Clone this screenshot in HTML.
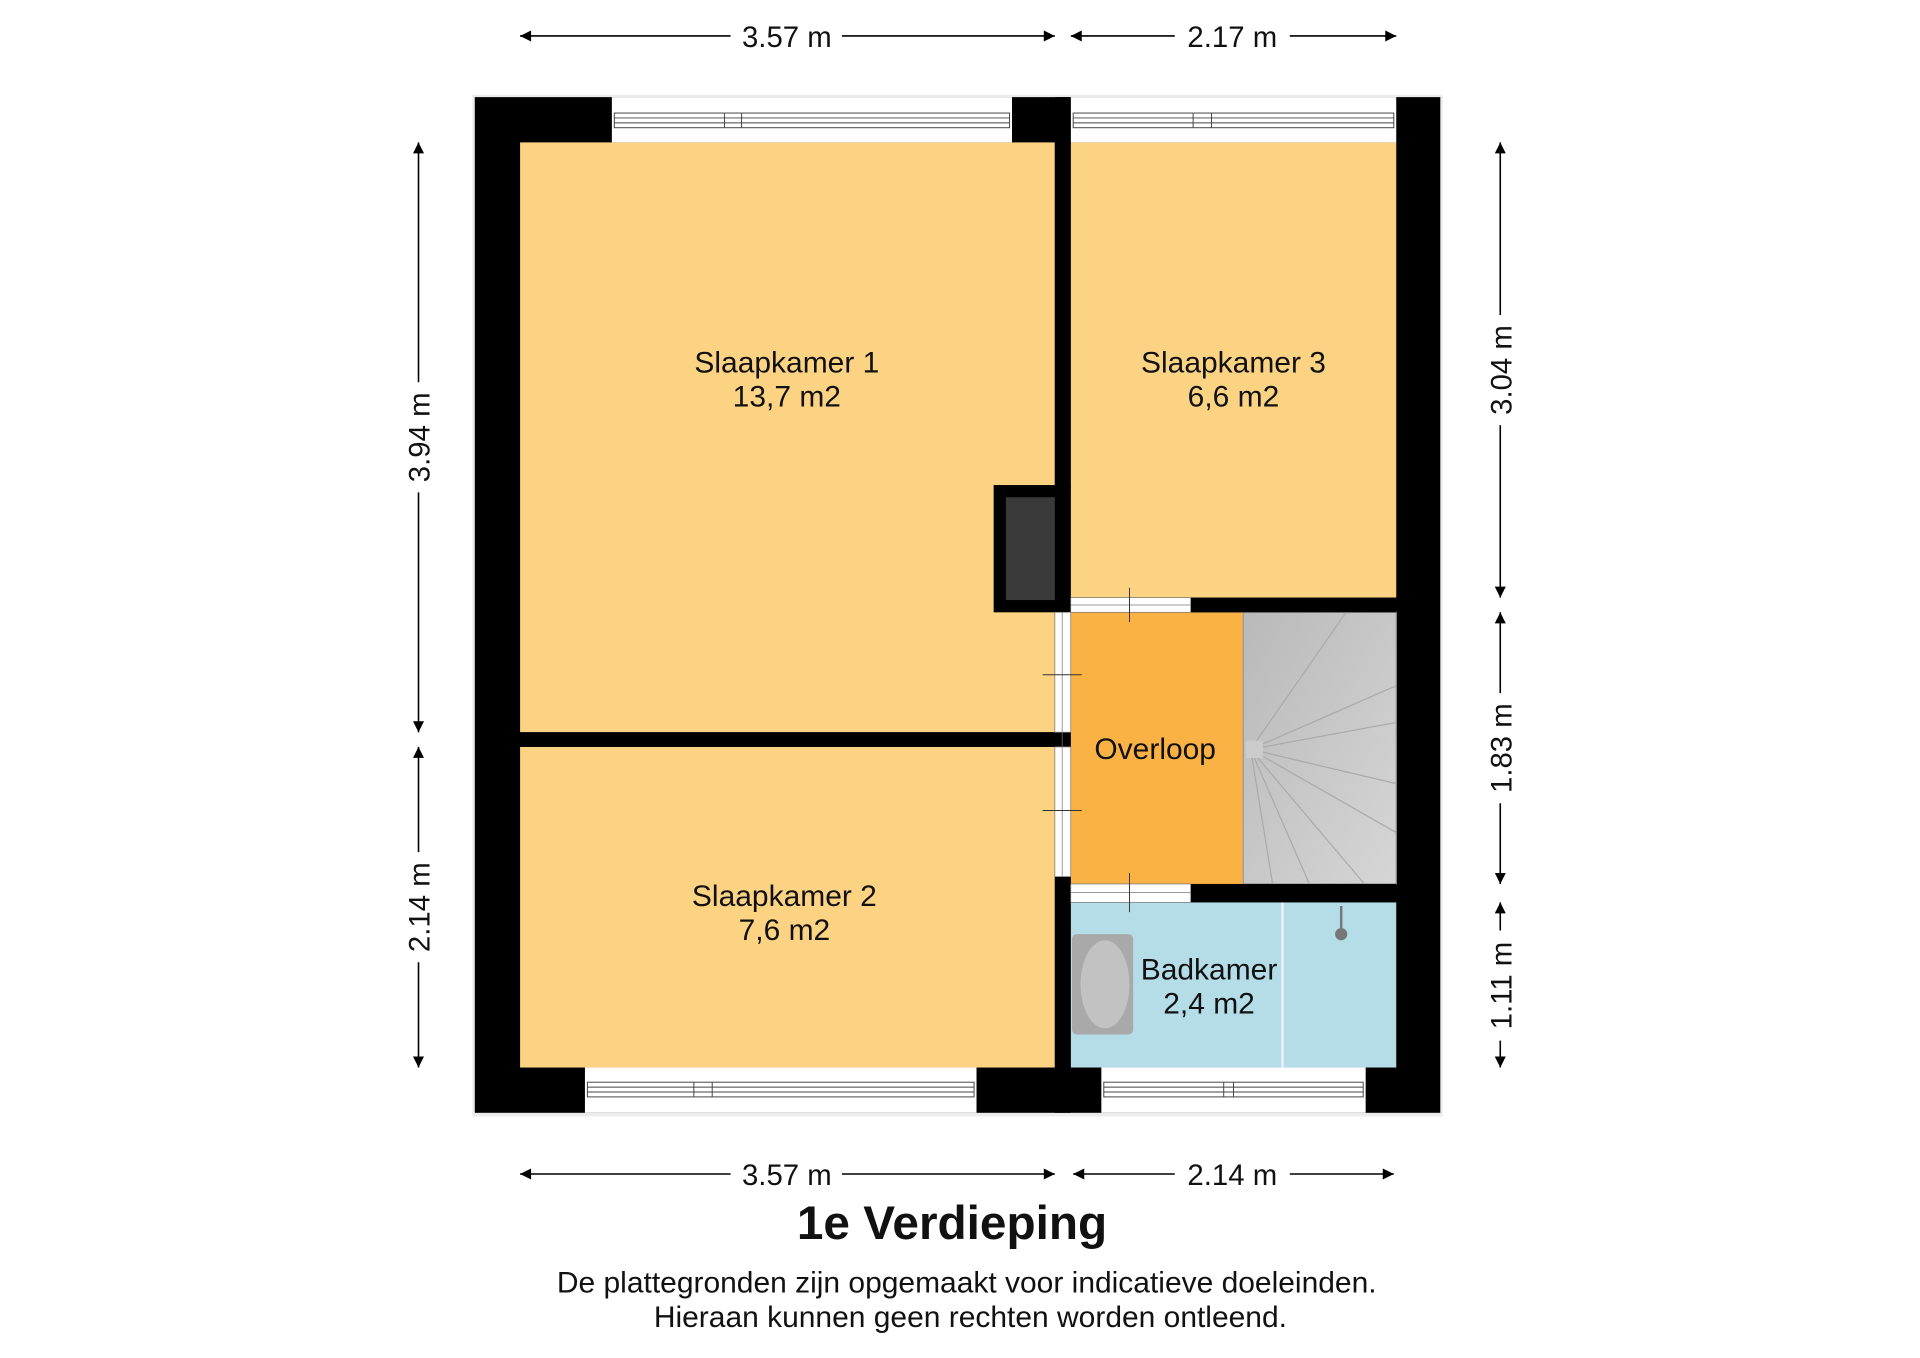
<!DOCTYPE html>
<html><head><meta charset="utf-8"><style>
html,body{margin:0;padding:0;background:#fff;}
svg{display:block;}
text{font-family:"Liberation Sans",Arial,sans-serif;fill:#111;}
</style></head><body>
<svg width="1920" height="1358" viewBox="0 0 1569 1109" xmlns="http://www.w3.org/2000/svg">
<defs>
<marker id="ar" viewBox="0 0 10 10" refX="10" refY="5" markerWidth="12" markerHeight="9" markerUnits="userSpaceOnUse" orient="auto-start-reverse">
<path d="M0,0 L10,5 L0,10 z" fill="#000"/></marker>
<linearGradient id="st" x1="0" y1="0" x2="1" y2="1"><stop offset="0" stop-color="#b9b9b9"/><stop offset="1" stop-color="#d6d6d6"/></linearGradient>
</defs>
<rect x="386" y="77" width="793" height="835" fill="#ececec"/>
<rect x="388" y="79" width="789" height="830" fill="#000"/>
<rect x="425" y="116" width="437" height="482" fill="#fcd283"/>
<rect x="875" y="116" width="266" height="372" fill="#fcd283"/>
<rect x="425" y="610" width="437" height="262" fill="#fcd283"/>
<rect x="875" y="500" width="141" height="222" fill="#fbb244"/>
<rect x="1016" y="500" width="125" height="222" fill="url(#st)" stroke="#999" stroke-width="1"/>
<g stroke="#aaa" stroke-width="1" fill="none">
<path d="M1022 612 L1141 560 M1022 612 L1141 590 M1022 612 L1141 640 M1022 612 L1141 680 M1022 612 L1115 722 M1022 612 L1070 722 M1022 612 L1040 722 M1022 612 L1100 500"/>
</g>
<rect x="1018" y="605" width="14" height="14" fill="#ccc"/>
<rect x="875" y="737" width="266" height="135" fill="#b4dde8"/>
<line x1="1048" y1="737" x2="1048" y2="872" stroke="#eef" stroke-width="2"/>
<rect x="812" y="396" width="63" height="104" fill="#000"/>
<rect x="822" y="406" width="40" height="84" fill="#3a3a3a"/>
<g>
<rect x="500" y="79" width="327" height="37" fill="#fff"/>
<rect x="875" y="79" width="266" height="37" fill="#fff"/>
<rect x="478" y="872" width="320" height="37" fill="#fff"/>
<rect x="900" y="872" width="216" height="37" fill="#fff"/>
<g stroke="#444" stroke-width="0.8" fill="none">
<rect x="502" y="92" width="323" height="12"/><line x1="502" y1="96" x2="825" y2="96"/><line x1="502" y1="100" x2="825" y2="100"/>
<line x1="592" y1="92" x2="592" y2="104"/><line x1="606" y1="92" x2="606" y2="104"/>
<rect x="877" y="92" width="262" height="12"/><line x1="877" y1="96" x2="1139" y2="96"/><line x1="877" y1="100" x2="1139" y2="100"/>
<line x1="975" y1="92" x2="975" y2="104"/><line x1="990" y1="92" x2="990" y2="104"/>
<rect x="480" y="884" width="316" height="12"/><line x1="480" y1="888" x2="796" y2="888"/><line x1="480" y1="892" x2="796" y2="892"/>
<line x1="567" y1="884" x2="567" y2="896"/><line x1="582" y1="884" x2="582" y2="896"/>
<rect x="902" y="884" width="212" height="12"/><line x1="902" y1="888" x2="1114" y2="888"/><line x1="902" y1="892" x2="1114" y2="892"/>
<line x1="1000" y1="884" x2="1000" y2="896"/><line x1="1008" y1="884" x2="1008" y2="896"/>
</g></g>
<rect x="862" y="79" width="13" height="320" fill="#000"/>
<rect x="425" y="598" width="450" height="12" fill="#000"/>
<rect x="973" y="488" width="168" height="12" fill="#000"/>
<rect x="973" y="722" width="168" height="15" fill="#000"/>
<rect x="862" y="716" width="13" height="193" fill="#000"/>
<rect x="875" y="488" width="98" height="12" fill="#fff" stroke="#777" stroke-width="0.6"/>
<line x1="875" y1="494" x2="973" y2="494" stroke="#777" stroke-width="0.6"/>
<rect x="875" y="722" width="98" height="15" fill="#fff" stroke="#777" stroke-width="0.6"/>
<line x1="875" y1="729" x2="973" y2="729" stroke="#777" stroke-width="0.6"/>
<rect x="862" y="500" width="13" height="98" fill="#fff" stroke="#777" stroke-width="0.6"/>
<rect x="862" y="610" width="13" height="106" fill="#fff" stroke="#777" stroke-width="0.6"/>
<line x1="868" y1="500" x2="868" y2="716" stroke="#777" stroke-width="0.6"/>
<g stroke="#333" stroke-width="0.8">
<line x1="923" y1="480" x2="923" y2="508"/><line x1="923" y1="713" x2="923" y2="745"/>
<line x1="852" y1="551" x2="884" y2="551"/><line x1="852" y1="662" x2="884" y2="662"/>
</g>
<rect x="876" y="763" width="50" height="82" rx="4" fill="#a9a9a9"/>
<ellipse cx="903" cy="804" rx="20" ry="36" fill="#c2c2c2"/>
<circle cx="1096" cy="763" r="5" fill="#777"/>
<line x1="1096" y1="740" x2="1096" y2="758" stroke="#777" stroke-width="2"/>
<g font-size="24.5" text-anchor="middle">
<text x="643" y="304">Slaapkamer 1</text><text x="643" y="332">13,7 m2</text>
<text x="1008" y="304">Slaapkamer 3</text><text x="1008" y="332">6,6 m2</text>
<text x="641" y="740">Slaapkamer 2</text><text x="641" y="768">7,6 m2</text>
<text x="944" y="620">Overloop</text>
<text x="988" y="800">Badkamer</text><text x="988" y="828">2,4 m2</text>
</g>
<g stroke="#000" stroke-width="1.3" fill="none">
<line x1="425" y1="29" x2="597" y2="29" marker-start="url(#ar)"/><line x1="688" y1="29" x2="862" y2="29" marker-end="url(#ar)"/>
<line x1="875" y1="29" x2="960" y2="29" marker-start="url(#ar)"/><line x1="1054" y1="29" x2="1141" y2="29" marker-end="url(#ar)"/>
<line x1="425" y1="959" x2="597" y2="959" marker-start="url(#ar)"/><line x1="688" y1="959" x2="862" y2="959" marker-end="url(#ar)"/>
<line x1="877" y1="959" x2="960" y2="959" marker-start="url(#ar)"/><line x1="1054" y1="959" x2="1139" y2="959" marker-end="url(#ar)"/>
<line x1="342" y1="116" x2="342" y2="312" marker-start="url(#ar)"/><line x1="342" y1="402" x2="342" y2="598" marker-end="url(#ar)"/>
<line x1="342" y1="610" x2="342" y2="696" marker-start="url(#ar)"/><line x1="342" y1="786" x2="342" y2="872" marker-end="url(#ar)"/>
<line x1="1226" y1="116" x2="1226" y2="257" marker-start="url(#ar)"/><line x1="1226" y1="347" x2="1226" y2="488" marker-end="url(#ar)"/>
<line x1="1226" y1="500" x2="1226" y2="566" marker-start="url(#ar)"/><line x1="1226" y1="656" x2="1226" y2="722" marker-end="url(#ar)"/>
<line x1="1226" y1="737" x2="1226" y2="760" marker-start="url(#ar)"/><line x1="1226" y1="850" x2="1226" y2="872" marker-end="url(#ar)"/>
</g>
<g font-size="24" text-anchor="middle">
<text x="643" y="38">3.57 m</text><text x="1007" y="38">2.17 m</text>
<text x="643" y="968">3.57 m</text><text x="1007" y="968">2.14 m</text>
<text transform="translate(351,357) rotate(-90)">3.94 m</text>
<text transform="translate(351,741) rotate(-90)">2.14 m</text>
<text transform="translate(1235,302) rotate(-90)">3.04 m</text>
<text transform="translate(1235,611) rotate(-90)">1.83 m</text>
<text transform="translate(1235,805) rotate(-90)">1.11 m</text>
</g>
<text x="778" y="1012" font-size="39" font-weight="bold" text-anchor="middle">1e Verdieping</text>
<text x="790" y="1056" font-size="24.5" text-anchor="middle">De plattegronden zijn opgemaakt voor indicatieve doeleinden.</text>
<text x="793" y="1084" font-size="24.5" text-anchor="middle">Hieraan kunnen geen rechten worden ontleend.</text>
</svg>
</body></html>
